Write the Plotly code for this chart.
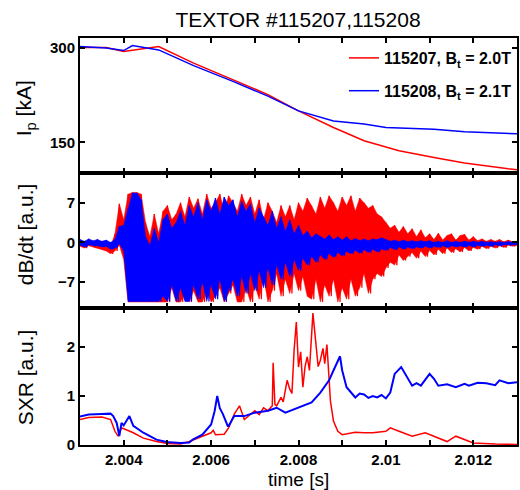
import plotly.graph_objects as go
from plotly.subplots import make_subplots

# ---------------- data ----------------
# Plasma current Ip [kA]
IP_RED_T = [2.003, 2.0036, 2.004, 2.0044, 2.0048, 2.0056, 2.0065, 2.0073, 2.008, 2.0088, 2.0095, 2.0103, 2.0111, 2.0118, 2.0128, 2.013]
IP_RED = [301, 301, 294.6, 298, 302.5, 276, 250, 226, 200, 173.6, 152.5, 136.7, 126, 117, 107.8, 106.5]
IP_BLUE_T = [2.003, 2.0036, 2.004, 2.0042, 2.0048, 2.0056, 2.0065, 2.0073, 2.008, 2.0088, 2.0095, 2.010, 2.0111, 2.0118, 2.013]
IP_BLUE = [302.5, 300, 296, 304, 297, 272, 247, 223.5, 200, 184, 179, 173.6, 171, 167, 163.6]

# dB/dt envelopes (upper / lower) sampled every 0.1 ms from 2.003 s to 2.013 s
DB_T = [round(2.003 + 0.0001 * i, 4) for i in range(101)]
RED_UP = [0.3, 0.0, 0.4, 0.1, 0.0, -0.3, -0.5, -0.8, 1.5, 6.8,
          4.0, 8.5, 8.8, 8.8, 8.5, 3.5, 1.0, 5.0, 1.5, 5.5,
          6.5, 4.0, 5.0, 7.0, 4.5, 8.0, 6.0, 7.7, 5.0, 8.5,
          6.0, 7.0, 8.5, 5.5, 8.2, 7.0, 5.5, 8.5, 6.5, 8.0,
          5.0, 7.5, 4.0, 7.0, 5.5, 3.5, 6.5, 4.5, 6.5, 4.0,
          7.0, 5.5, 7.8, 6.5, 5.0, 8.0, 6.0, 8.2, 7.0, 5.5,
          8.0, 6.5, 8.2, 5.5, 7.8, 7.0, 6.0, 6.5, 5.0, 4.5,
          3.5, 2.5, 3.0, 1.8, 2.8, 1.5, 2.4, 1.0, 2.2, 0.8,
          1.5, 0.5, 1.6, 0.4, 1.2, 1.5, 0.4, 1.2, 1.4, 0.4,
          1.0, 0.3, 0.6, 0.2, 0.5, 0.2, 0.5, 0.1, 0.4, 0.1, 0.2]
RED_LO = [-0.7, -1.0, -0.6, -0.9, -1.0, -1.3, -1.5, -2.0, -1.5, -0.5,
          -3.0, -10.5, -10.5, -10.5, -10.5, -10.5, -10.5, -10.5, -10.5, -10.5,
          -10.5, -8.0, -10.5, -10.5, -9.0, -10.5, -8.5, -10.5, -10.5, -8.5,
          -10.5, -9.5, -8.0, -10.5, -9.0, -7.5, -10.5, -10.5, -8.0, -10.5,
          -7.5, -10.0, -6.0, -10.5, -8.5, -5.5, -9.5, -6.5, -9.0, -5.5,
          -8.5, -6.0, -9.5, -10.0, -6.5, -10.5, -7.5, -9.5, -6.5, -10.5,
          -8.0, -10.0, -6.5, -9.5, -8.0, -5.5, -9.0, -6.5, -5.5, -6.0,
          -4.5, -3.5, -4.0, -2.2, -3.2, -2.5, -1.8, -2.8, -1.5, -2.5,
          -1.4, -2.2, -1.2, -2.0, -1.0, -1.8, -1.1, -1.7, -0.9, -1.5,
          -0.9, -1.2, -0.7, -1.1, -0.7, -1.0, -0.6, -0.9, -0.5, -0.7, -0.5]
BLUE_UP = [0.5, 0.2, 0.6, 0.3, 0.5, 0.2, 0.4, 0.0, 0.5, 2.8,
           3.0, 6.0, 8.7, 8.7, 7.5, 1.0, -0.5, 2.5, 0.0, 4.0,
           5.0, 2.5, 3.5, 5.5, 3.0, 6.5, 4.5, 7.0, 4.0, 7.5,
           5.5, 7.8, 5.0, 8.0, 6.5, 7.5, 4.5, 7.2, 5.5, 6.8,
           3.5, 6.0, 4.5, 3.0, 5.5, 2.5, 4.5, 2.0, 4.0, 1.5,
           3.0, 1.2, 2.0, 0.8, 1.5, 1.0, 0.6, 1.3, 0.5, 1.0,
           0.4, 1.0, 0.3, 0.7, 0.3, 0.6, 0.3, 0.6, 0.5, 0.8,
           0.5, 0.2, 0.4, 0.1, 0.4, 0.1, 0.3, 0.1, 0.3, 0.1,
           0.3, 0.0, 0.2, 0.0, 0.3, 0.0, 0.2, 0.0, 0.2, 0.0,
           0.2, 0.0, 0.2, 0.0, 0.1, 0.0, 0.1, 0.0, 0.1, 0.0, 0.0]
BLUE_LO = [-0.5, -0.8, -0.4, -0.6, -0.6, -0.8, -0.7, -1.2, -1.0, -0.3,
           -1.5, -10.4, -10.4, -10.4, -10.4, -10.4, -10.4, -10.4, -10.4, -9.5,
           -10.4, -7.5, -10.4, -8.0, -10.4, -10.4, -7.5, -10.0, -7.0, -10.4,
           -7.5, -10.0, -6.5, -10.4, -8.5, -6.5, -9.5, -6.0, -9.0, -5.5,
           -8.5, -5.0, -8.0, -4.5, -7.5, -4.0, -6.5, -3.5, -6.0, -3.0,
           -5.0, -2.8, -4.0, -2.5, -3.5, -2.2, -3.0, -2.0, -2.6, -1.8,
           -2.4, -1.6, -2.0, -1.4, -1.9, -1.3, -1.8, -1.2, -1.7, -1.2,
           -1.4, -0.9, -1.3, -0.8, -1.2, -0.8, -1.1, -0.8, -1.0, -0.7,
           -1.0, -0.7, -0.9, -0.6, -0.9, -0.6, -0.8, -0.6, -0.8, -0.5,
           -0.8, -0.5, -0.7, -0.5, -0.7, -0.4, -0.6, -0.4, -0.5, -0.4, -0.4]

# Soft X-ray [a.u.]
SXR_RED_T = [2.003, 2.0032, 2.0035, 2.0037, 2.0038, 2.00387, 2.00395, 2.00406, 2.00422, 2.00445,
             2.00475, 2.005, 2.0053, 2.0055, 2.0058, 2.006, 2.00605, 2.0061, 2.0063, 2.0064,
             2.00653, 2.00665, 2.00676, 2.0069, 2.007, 2.0071, 2.0072, 2.0073, 2.0074, 2.00742,
             2.00746, 2.0075, 2.0076, 2.00765, 2.00774, 2.0078, 2.00785, 2.0079, 2.00795, 2.0080,
             2.00805, 2.0081, 2.00815, 2.0082, 2.00825, 2.00833, 2.0084, 2.00845, 2.0085, 2.00856,
             2.0086, 2.00865, 2.0087, 2.00873, 2.0088, 2.0089, 2.009, 2.0093, 2.0095, 2.0097,
             2.01, 2.0101, 2.0103, 2.0106, 2.0109, 2.0111, 2.0114, 2.0116, 2.0118, 2.012,
             2.0125, 2.013]
SXR_RED = [0.52, 0.56, 0.57, 0.52, 0.28, 0.18, 0.35, 0.31, 0.25, 0.14,
           0.07, 0.03, 0.02, 0.07, 0.18, 0.25, 0.30, 0.21, 0.22, 0.35,
           0.63, 0.80, 0.52, 0.62, 0.70, 0.62, 0.76, 0.70, 0.80, 1.68,
           0.83, 0.80, 0.97, 0.88, 1.32, 1.14, 1.05, 1.94, 2.51, 1.59,
           1.90, 1.18, 1.60, 1.80, 1.52, 2.69, 2.08, 1.60, 1.73, 1.97,
           1.66, 2.05, 1.35, 0.90, 0.49, 0.28, 0.21, 0.26, 0.25, 0.25,
           0.28, 0.35, 0.28, 0.18, 0.25, 0.18, 0.07, 0.18, 0.11, 0.04,
           0.02, 0.01]
SXR_BLUE_T = [2.003, 2.0032, 2.0035, 2.0037, 2.00376, 2.00384, 2.0039, 2.00395, 2.004, 2.00413,
              2.00422, 2.00445, 2.00475, 2.00498, 2.0053, 2.0055, 2.00558, 2.0058, 2.006, 2.00608,
              2.00614, 2.0062, 2.00627, 2.00638, 2.0064, 2.00653, 2.00676, 2.007, 2.0073, 2.0075,
              2.0077, 2.008, 2.0083, 2.0085, 2.0087, 2.0088, 2.00895, 2.009, 2.0091, 2.0093,
              2.0094, 2.0095, 2.0096, 2.0097, 2.0098, 2.0099, 2.010, 2.0101, 2.0102, 2.01035,
              2.0105, 2.0106, 2.0107, 2.0108, 2.011, 2.0111, 2.0112, 2.0114, 2.0116, 2.0118,
              2.0119, 2.0121, 2.0123, 2.0125, 2.0126, 2.0128, 2.013]
SXR_BLUE = [0.58, 0.62, 0.63, 0.64, 0.59, 0.45, 0.18, 0.45, 0.40, 0.59,
            0.39, 0.25, 0.11, 0.06, 0.04, 0.05, 0.11, 0.21, 0.42, 0.69,
            1.00, 0.75, 0.63, 0.39, 0.39, 0.59, 0.59, 0.66, 0.70, 0.76,
            0.66, 0.76, 0.87, 1.07, 1.32, 1.52, 1.81, 1.52, 1.18, 0.97,
            1.05, 1.03, 0.96, 1.00, 0.97, 1.02, 0.95, 1.07, 1.45, 1.59,
            1.35, 1.21, 1.26, 1.21, 1.45, 1.35, 1.21, 1.24, 1.18, 1.25,
            1.21, 1.27, 1.26, 1.22, 1.32, 1.26, 1.28]

X_TICKVALS = [2.004, 2.006, 2.008, 2.010, 2.012]
X_TICKTEXT = ["2.004", "2.006", "2.008", "2.01", "2.012"]

RED = "#ff0000"
BLUE = "#0000ff"
FONT = "Liberation Sans, Arial, sans-serif"

fig = make_subplots(rows=3, cols=1, shared_xaxes=True, vertical_spacing=0)

# Ip
fig.add_trace(go.Scatter(x=IP_RED_T, y=IP_RED, mode="lines", line=dict(color=RED, width=1.5),
                         name="115207, B<sub>t</sub> = 2.0T", legendgroup="a"), row=1, col=1)
fig.add_trace(go.Scatter(x=IP_BLUE_T, y=IP_BLUE, mode="lines", line=dict(color=BLUE, width=1.5),
                         name="115208, B<sub>t</sub> = 2.1T", legendgroup="b"), row=1, col=1)

# dB/dt: solid band between the read envelopes, plus the fast swing drawn on top
HALF = 0.00005
for up, lo, col in [(RED_UP, RED_LO, RED), (BLUE_UP, BLUE_LO, BLUE)]:
    fig.add_trace(go.Scatter(x=DB_T + DB_T[::-1], y=up + lo[::-1], mode="lines",
                             fill="toself", fillcolor=col, line=dict(color=col, width=0.5),
                             showlegend=False, hoverinfo="skip"), row=2, col=1)
    xs, ys = [], []
    for t, u, l in zip(DB_T, up, lo):
        xs += [t, t + HALF]
        ys += [u, l]
    fig.add_trace(go.Scatter(x=xs, y=ys, mode="lines",
                             line=dict(color=col, width=1.2, simplify=False),
                             showlegend=False, hoverinfo="skip"), row=2, col=1)

# SXR
fig.add_trace(go.Scatter(x=SXR_RED_T, y=SXR_RED, mode="lines", line=dict(color=RED, width=1.5),
                         showlegend=False), row=3, col=1)
fig.add_trace(go.Scatter(x=SXR_BLUE_T, y=SXR_BLUE, mode="lines", line=dict(color=BLUE, width=2),
                         showlegend=False), row=3, col=1)

axis_common = dict(showline=True, linewidth=2, linecolor="black", mirror="ticks",
                   ticks="inside", ticklen=5, tickwidth=2, tickcolor="black",
                   showgrid=False, zeroline=False,
                   tickfont=dict(family=FONT, size=15, color="black", weight="bold"))

for r in (1, 2, 3):
    fig.update_xaxes(range=[2.003, 2.013], tickvals=X_TICKVALS, ticktext=X_TICKTEXT,
                     minor=dict(ticks="inside", tick0=2.003, dtick=0.001, ticklen=5,
                                tickwidth=2, tickcolor="black", showgrid=False),
                     showticklabels=(r == 3), **axis_common, row=r, col=1)

fig.update_yaxes(range=[101, 316], tickvals=[150, 300], domain=[0.668, 1.0], **axis_common, row=1, col=1)
fig.update_yaxes(range=[-11.6, 12.2], tickvals=[-7, 0, 7], domain=[0.336, 0.668], **axis_common, row=2, col=1)
fig.update_yaxes(range=[0, 2.79], tickvals=[0, 1, 2], domain=[0.0, 0.336], **axis_common, row=3, col=1)

BOTTOM = 445.0
H = BOTTOM - 38.0
def ypaper(py):
    return (BOTTOM - py) / H
def xpaper(px):
    return (px - 80) / 439.0

# axis titles as annotations
for txt, py in [("I<sub>p</sub> [kA]", 108), ("dB/dt [a.u.]", 234), ("SXR [a.u.]", 377)]:
    fig.add_annotation(text=txt, x=xpaper(25), y=ypaper(py), xref="paper", yref="paper",
                       textangle=-90, showarrow=False, xanchor="center", yanchor="middle",
                       font=dict(family=FONT, size=21, color="black"))
fig.add_annotation(text="time [s]", x=xpaper(299), y=ypaper(492), xref="paper", yref="paper",
                   showarrow=False, xanchor="center", yanchor="bottom",
                   font=dict(family=FONT, size=19, color="black"))

fig.update_layout(
    width=520, height=490,
    margin=dict(l=80, r=1, t=38, b=490 - BOTTOM),
    paper_bgcolor="white", plot_bgcolor="white",
    title=dict(text="TEXTOR #115207,115208", x=xpaper(299), xref="paper", xanchor="center",
               y=1 - 20 / 490, yanchor="middle",
               font=dict(family=FONT, size=21, color="black")),
    legend=dict(x=1, y=ypaper(41), xanchor="right", yanchor="top", bgcolor="rgba(0,0,0,0)",
                font=dict(family=FONT, size=16, color="black", weight="bold"),
                itemwidth=30, tracegroupgap=9),
    showlegend=True,
)

fig.write_html("out.html")
